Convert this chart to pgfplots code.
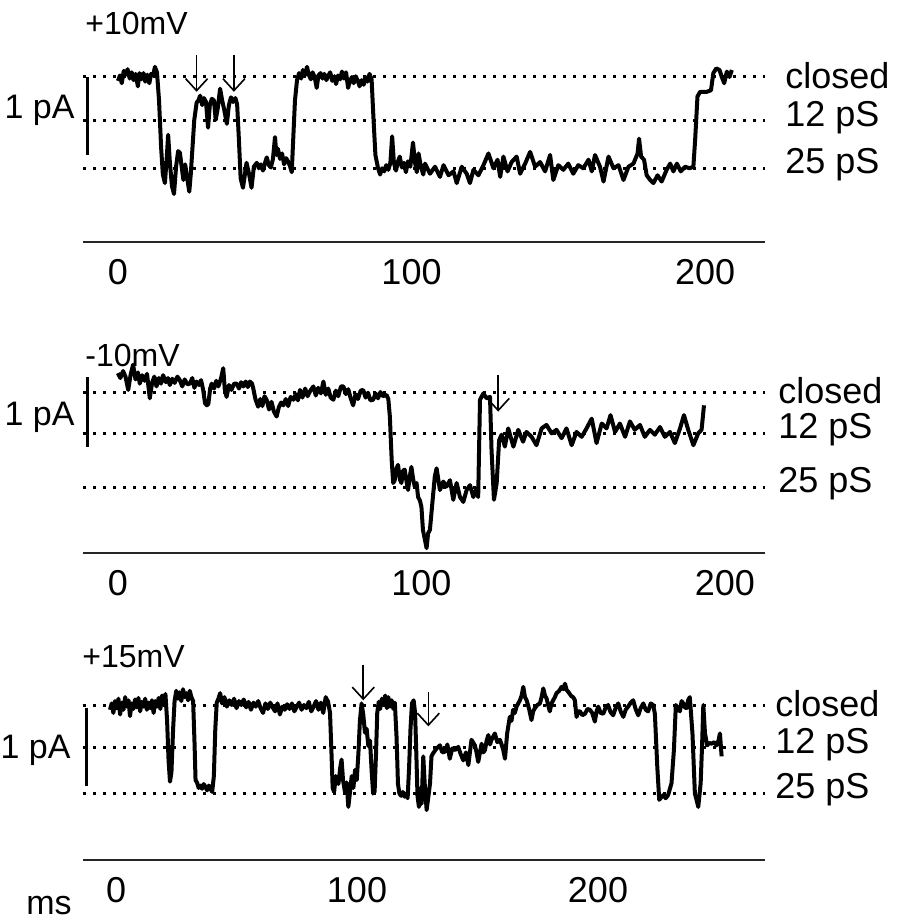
\documentclass[border=0pt]{standalone}
\usepackage{pgfplots}
\pgfplotsset{compat=1.18}
\usepackage{fontspec}
\setmainfont{Liberation Sans}
\usetikzlibrary{arrows.meta}

\pgfplotsset{
  trace/.style={black, line width=2pt, line join=round, no markers},
  lvl/.style={black, line width=1.5pt, dash pattern=on 1.3pt off 3.7pt, no markers},
  panel/.style={scale only axis, width=341pt, anchor=south west,
    axis x line=bottom, axis y line=none,
    axis line style={-, line width=0.8pt, black!85},
    xtick={0,100,200}, major tick length=0pt,
    xticklabel style={font=\fontsize{18}{18}\selectfont, yshift=-5pt},
    /pgf/number format/assume math mode=true, clip=false},
}
\tikzset{
  lab/.style={anchor=base west, inner sep=0pt, font=\fontsize{18}{18}\selectfont},
  arr/.style={line width=0.8pt, -{Straight Barb[length=6pt,width=11pt]}},
  bar/.style={line width=1.5pt},
}

\begin{document}
\begin{tikzpicture}
\path[use as bounding box] (0,0) rectangle (448.5pt,-461pt);

% ---------------- Panel 1 : +10 mV ----------------
\begin{axis}[panel, at={(41.5pt,-121pt)}, height=101pt,
  xmin=-11.9, xmax=220.4, ymin=-2.115, ymax=0.474]
\addplot[lvl] coordinates {(-11.9,0) (220.4,0)};
\addplot[lvl] coordinates {(-11.9,-0.564) (220.4,-0.564)};
\addplot[lvl] coordinates {(-11.9,-1.167) (220.4,-1.167)};
\addplot[trace] coordinates {
(0,-0.05) (0.7,0.02) (1.3,-0.08) (2,0.08) (2.7,0.03) (3.3,0.10) (4,-0.02) (4.7,0.06) (5.3,-0.04) (6,0.04)
(6.8,-0.12) (7.3,0.05) (8,-0.03) (8.7,0.05) (9.3,-0.06) (10,0.03) (10.7,-0.08) (11.3,0.04) (12,0.02) (12.6,0.13)
(13.3,0.06) (14,-0.3) (14.7,-0.9) (15.3,-1.25) (16,-1.36) (16.6,-1.05) (17.1,-0.74) (17.7,-1.1) (18.4,-1.4) (19.1,-1.5)
(19.8,-1.15) (20.5,-0.95) (21.1,-0.97) (21.7,-1.15) (22.3,-1.32) (22.9,-1.12) (23.6,-1.3) (24.3,-1.47) (24.8,-1.25) (25.4,-0.9)
(26,-0.55) (26.8,-0.33) (27.4,-0.3) (28,-0.24) (28.7,-0.36) (29.3,-0.27) (30,-0.32) (30.7,-0.65) (31.3,-0.36) (32,-0.28)
(32.7,-0.3) (33.3,-0.55) (34,-0.4) (34.8,-0.15) (35.5,-0.3) (36.2,-0.42) (37.1,-0.6) (37.8,-0.36) (38.5,-0.26) (39.2,-0.32)
(40,-0.27) (40.6,-0.35) (41.2,-0.8) (41.8,-1.3) (42.6,-1.42) (43.8,-1.1) (44.7,-1.25) (45.5,-1.42) (46.3,-1.15) (47.3,-1.1)
(48,-1.17) (48.7,-1.12) (49.4,-1.2) (50.1,-1.1) (50.7,-1.03) (51.4,-1.13) (52.1,-1.16) (52.8,-1.05) (53.5,-0.77) (54,-1.0)
(54.5,-0.92) (55.2,-1.05) (55.9,-0.98) (56.6,-1.12) (57.3,-1.04) (57.9,-1.08) (58.6,-1.14) (59.2,-1.22) (59.7,-0.8) (60.3,-0.3)
(61,-0.04) (61.7,0.05) (62.4,-0.02) (63,0.09) (63.7,0.02) (64.4,0.13) (65,0.03) (65.7,-0.03) (66.3,0.06) (67,0.0)
(67.7,-0.14) (68.3,0.02) (69,0.05) (69.7,-0.02) (70.3,0.04) (71,-0.04) (71.7,0.02) (72.3,0.06) (73,-0.05) (73.7,0.01)
(74.3,-0.09) (75,0.02) (75.7,-0.03) (76.3,0.07) (77,-0.02) (77.7,0.06) (78.4,-0.14) (79,-0.05) (79.7,0.0) (80.3,-0.08)
(81,0.01) (81.7,-0.05) (82.3,-0.12) (83,-0.04) (83.7,-0.1) (84.3,0.0) (85,-0.06) (85.7,0.04) (86.4,-0.03) (87,-0.5)
(87.7,-1.0) (88.6,-1.17) (89.3,-1.25) (90,-1.17) (90.7,-1.21) (91.4,-1.13) (92.1,-1.19) (92.8,-1.1) (93.4,-0.76) (94,-1.1)
(94.7,-1.2) (95.4,-1.08) (96,-1.02) (96.7,-1.16) (97.4,-1.1) (98.1,-1.22) (98.8,-1.08) (99.6,-1.15) (100.5,-0.84) (101.2,-1.1)
(101.8,-1.22) (102.4,-0.98) (103.2,-1.15) (104,-1.25) (104.6,-1.11) (106.3,-1.24) (108,-1.15) (109.7,-1.28) (110.9,-1.13) (112.6,-1.26)
(114.3,-1.21) (115.4,-1.36) (117.1,-1.15) (118.8,-1.24) (119.9,-1.36) (121.1,-1.19) (122.8,-1.26) (124.5,-1.13) (126.2,-0.98) (127.9,-1.17)
(129.3,-1.06) (130.2,-1.28) (131.3,-1.02) (132.7,-1.21) (134.1,-1.09) (135.8,-1.02) (137,-1.24) (138.7,-1.11) (140.4,-0.96) (142.1,-1.15)
(143.8,-1.09) (145.5,-1.21) (147.2,-1.0) (148.3,-1.32) (150,-1.13) (151.7,-1.19) (153.4,-1.11) (155.1,-1.24) (156.8,-1.13) (158.5,-1.17)
(160.3,-1.06) (161.4,-1.21) (162.5,-1.0) (164.2,-1.15) (165.4,-1.34) (167.1,-1.02) (168.8,-1.17) (170.5,-1.13) (172.2,-1.32) (173.9,-1.15)
(175.6,-1.11) (177,-0.98) (177.5,-0.79) (178.2,-1.02) (179.2,-1.06) (180.1,-1.26) (181.3,-1.32) (182.4,-1.36) (183.8,-1.26) (185.2,-1.34)
(186.9,-1.19) (188.1,-1.11) (189.2,-1.21) (190.4,-1.11) (191.7,-1.21) (193.2,-1.15) (194.7,-1.17) (196,-1.15) (196.6,-0.81) (197.4,-0.25)
(198.3,-0.19) (200.6,-0.19) (202,-0.17) (202.8,0.05) (203.8,0.11) (204.9,0.09) (205.7,0.0) (206.5,-0.08) (207.4,0.07) (208.3,0.0)
(209.1,0.09)
};
\draw[bar] (axis cs:-10.2,0) -- (axis cs:-10.2,-1);
\draw[arr] (axis cs:26.8,0.28) -- (axis cs:26.8,-0.19);
\draw[arr] (axis cs:39.5,0.28) -- (axis cs:39.5,-0.19);
\node[lab, xshift=10pt, yshift=-5.8pt] at (axis cs:220.4,0) {closed};
\node[lab, xshift=10pt, yshift=-2.8pt] at (axis cs:220.4,-0.564) {12 pS};
\node[lab, xshift=10pt, yshift=-2.5pt] at (axis cs:220.4,-1.167) {25 pS};
\end{axis}

% ---------------- Panel 2 : -10 mV ----------------
\begin{axis}[panel, at={(41.5pt,-276.5pt)}, height=94pt,
  xmin=-11.5, xmax=213.2, ymin=-2.3, ymax=0.386]
\addplot[lvl] coordinates {(-11.5,0) (213.2,0)};
\addplot[lvl] coordinates {(-11.5,-0.586) (213.2,-0.586)};
\addplot[lvl] coordinates {(-11.5,-1.357) (213.2,-1.357)};
\addplot[trace] coordinates {
(0,0.27) (0.8,0.2) (1.7,0.3) (2.5,0.22) (3.4,0.03) (4.2,0.25) (5,0.39) (5.8,0.18) (6.6,0.28) (7.2,0.12)
(8,0.24) (8.8,0.16) (9.6,0.26) (10.5,-0.09) (11.3,0.14) (12,0.22) (12.7,0.08) (13.5,0.2) (14.2,0.12) (14.9,0.24)
(15.8,0.14) (16.5,0.2) (17.1,0.1) (17.9,0.19) (18.7,0.13) (19.6,0.22) (20.4,0.17) (21.2,0.08) (22,0.18) (22.9,0.11)
(23.7,0.12) (24.5,0.2) (25.2,0.06) (25.9,0.15) (26.7,0.1) (27.4,0.17) (28.1,0.03) (28.7,-0.16) (29.3,-0.19) (29.8,-0.17)
(30.4,0.05) (30.9,0.12) (31.7,0.05) (32.4,0.16) (33.1,0.08) (34,0.2) (34.7,0.34) (35.2,0.05) (35.8,-0.07) (36.6,0.1)
(37.4,0.03) (38.3,0.12) (39.1,0.12) (39.9,0.05) (40.6,0.14) (41.3,0.08) (42.1,0.15) (42.8,0.07) (43.5,0.15) (44.2,0.12)
(44.6,0.05) (45.3,-0.1) (46.2,-0.21) (46.9,-0.1) (47.6,-0.2) (48.3,-0.06) (49,-0.11) (49.8,-0.25) (50.6,-0.14) (51.4,-0.28)
(52.3,-0.35) (53,-0.22) (53.8,-0.15) (54.5,-0.19) (55.3,-0.1) (56.1,-0.2) (56.9,-0.07) (57.8,-0.11) (58.6,-0.03) (59.3,-0.12)
(60,0.03) (60.8,-0.08) (61.7,0.05) (62.5,-0.06) (63.4,0.02) (64.4,0.08) (65.2,-0.05) (66,0.06) (66.9,-0.02) (67.7,0.15)
(68.5,-0.04) (69.3,0.05) (70.1,-0.08) (71,-0.11) (71.8,0.02) (72.6,-0.06) (73.5,0.08) (74.3,0.08) (75.1,-0.03) (75.9,0.04)
(76.7,-0.09) (77.5,-0.19) (78.3,-0.03) (79.1,-0.1) (80,0.02) (80.8,0.03) (81.6,-0.08) (82.4,-0.01) (83.2,-0.12) (84.1,-0.11)
(84.9,-0.02) (85.7,-0.09) (86.5,0.0) (87.3,-0.06) (88.5,-0.04) (89.1,-0.1) (89.6,-0.35) (90.2,-0.97) (90.7,-1.3) (91.2,-1.26)
(91.7,-1.1) (92.3,-1.04) (92.9,-1.25) (93.4,-1.3) (94,-1.12) (94.5,-1.11) (95.1,-1.28) (95.6,-1.4) (96.2,-1.2) (96.7,-1.07)
(97.3,-1.25) (97.8,-1.35) (98.4,-1.3) (98.9,-1.5) (99.5,-1.55) (100,-1.64) (100.5,-1.97) (101.1,-2.1) (101.7,-2.23) (102.2,-2.02)
(102.8,-1.97) (103.7,-1.54) (104.4,-1.21) (105,-1.09) (106.1,-1.4) (107.2,-1.28) (108.3,-1.35) (109.4,-1.26) (110.5,-1.54) (111.6,-1.30)
(112.7,-1.50) (113.8,-1.57) (114.9,-1.40) (116,-1.33) (117.1,-1.50) (118.2,-1.38) (118.7,-1.5) (119.3,-0.11) (120.4,-0.02) (121.5,-0.09)
(122.6,-0.07) (123.1,-0.83) (123.9,-1.54) (124.8,-1.30) (125.6,-0.69) (126.4,-0.61) (127.5,-0.78) (128.6,-0.52) (130.3,-0.78) (131.9,-0.54)
(133.5,-0.71) (134.6,-0.57) (136.3,-0.64) (137.9,-0.76) (139.6,-0.52) (141.2,-0.47) (142.9,-0.59) (144.5,-0.54) (146.2,-0.66) (147.8,-0.52)
(149.5,-0.76) (151.1,-0.57) (152.8,-0.64) (154.4,-0.52) (156.1,-0.38) (157.7,-0.73) (159.4,-0.45) (161,-0.52) (162.3,-0.33) (163.8,-0.57)
(165.4,-0.45) (167.1,-0.64) (168.7,-0.42) (170.3,-0.54) (172,-0.47) (173.6,-0.64) (175.3,-0.54) (176.9,-0.61) (178.6,-0.50) (180.2,-0.64)
(181.9,-0.57) (183.5,-0.73) (185.2,-0.52) (186.5,-0.33) (187.9,-0.54) (189.6,-0.76) (191.2,-0.59) (192.3,-0.54) (193.1,-0.19)
};
\draw[bar] (axis cs:-9.9,0.214) -- (axis cs:-9.9,-0.786);
\draw[arr] (axis cs:125.3,0.243) -- (axis cs:125.3,-0.28);
\node[lab, xshift=6.5pt, yshift=-5.8pt] at (axis cs:213.2,0) {closed};
\node[lab, xshift=6.5pt, yshift=-2.8pt] at (axis cs:213.2,-0.586) {12 pS};
\node[lab, xshift=6.5pt, yshift=-2.5pt] at (axis cs:213.2,-1.357) {25 pS};
\end{axis}

% ---------------- Panel 3 : +15 mV ----------------
\begin{axis}[panel, at={(41.5pt,-430pt)}, height=92.5pt,
  xmin=-13.7, xmax=269.3, ymin=-1.962, ymax=0.38]
\addplot[lvl] coordinates {(-13.7,0) (269.3,0)};
\addplot[lvl] coordinates {(-13.7,-0.54) (269.3,-0.54)};
\addplot[lvl] coordinates {(-13.7,-1.125) (269.3,-1.125)};
\addplot[trace] coordinates {
(-2.5,-0.06) (-1.8,0.02) (-1.1,-0.10) (-0.4,0.05) (0.3,-0.04) (1.0,0.08) (1.7,-0.12) (2.4,0.03) (3.1,-0.06) (3.8,0.10)
(4.5,-0.02) (5.2,0.06) (5.8,-0.14) (6.5,0.02) (7.2,-0.05) (7.9,0.07) (8.6,-0.03) (9.3,0.09) (10,-0.08) (10.7,0.04)
(11.4,-0.02) (12.1,0.08) (12.8,-0.06) (13.5,0.03) (14.2,-0.04) (14.9,0.06) (15.6,-0.1) (16.3,0.05) (17,-0.02) (17.7,0.09)
(18.4,-0.05) (19.1,0.12) (19.8,0.0) (20.5,0.14) (21.2,-0.2) (21.8,-0.7) (22.4,-0.97) (23,-0.85) (23.7,-0.3) (24.3,0.05)
(25,0.18) (25.7,0.08) (26.4,0.16) (27.1,0.05) (27.8,0.2) (28.5,0.1) (29.2,0.15) (29.9,0.06) (30.6,0.18) (31.3,0.1)
(32,0.05) (32.6,-0.5) (33,-0.95) (33.6,-0.98) (34.3,-1.05) (35,-1.02) (35.7,-1.06) (36.4,-1.0) (37.1,-1.04) (37.8,-1.08)
(38.5,-1.02) (39.2,-1.06) (39.9,-1.1) (40.6,-0.9) (41.2,-0.3) (41.8,0.03) (42.5,0.08) (43.2,0.15) (44,0.02) (45,0.10)
(46,-0.02) (47,0.06) (48,0.0) (49,0.08) (50,-0.04) (51,0.05) (52,0.0) (53,0.07) (54,-0.03) (55,0.04)
(56,-0.06) (57,0.03) (58,-0.02) (59,0.05) (60,-0.04) (61,-0.10) (62,0.02) (63,-0.05) (64,0.03) (65,-0.03)
(66,-0.08) (67,0.02) (68,-0.12) (69,-0.02) (70,-0.06) (71,0.01) (72,-0.05) (73,0.02) (74,-0.08) (75,-0.02)
(76,0.03) (77,-0.06) (78,0.0) (79,-0.04) (80,0.04) (81,-0.08) (82,-0.02) (83,0.05) (84,-0.06) (85,0.03)
(86,-0.1) (87,0.1) (88,0.04) (88.8,-0.1) (89.4,-0.6) (89.9,-1.05) (90.5,-1.1) (91.2,-0.9) (92.3,-1.0) (93,-0.8)
(93.6,-0.69) (94.2,-0.95) (95,-1.1) (95.7,-0.98) (96.4,-1.29) (97.1,-1.1) (97.8,-0.9) (98.5,-1.05) (99.2,-0.82) (99.9,-0.95)
(100.6,-0.6) (101.2,-0.2) (101.9,0.02) (102.6,-0.12) (103.3,-0.35) (104,-0.3) (104.7,-0.52) (105.4,-0.45) (106.1,-0.85) (106.7,-1.12)
(107.3,-1.1) (107.9,-0.6) (108.4,-0.1) (109,0.04) (109.6,-0.05) (110.3,0.08) (111,0.0) (111.7,0.12) (112.4,-0.04) (113,0.1)
(113.7,-0.02) (114.4,0.06) (115.1,-0.05) (115.7,0.03) (116.4,-0.4) (117,-1.0) (117.6,-1.12) (118.3,-1.15) (119,-1.1) (119.7,-1.16)
(120.4,-1.12) (121,-1.18) (121.6,-0.8) (122.2,-0.3) (122.8,0.02) (123.5,0.06) (124.1,-0.1) (124.6,-0.6) (125.1,-1.15) (125.7,-1.29)
(126.3,-1.05) (126.8,-1.25) (127.5,-0.65) (128.1,-1.0) (128.9,-1.33) (130.3,-0.99) (130.9,-0.65) (131.6,-0.61) (133,-0.55) (134.4,-0.51)
(135.4,-0.6) (136.5,-0.59) (137.5,-0.5) (138.5,-0.68) (139.5,-0.55) (140.6,-0.57) (142,-0.53) (143,-0.62) (144.1,-0.70) (145.2,-0.6)
(146.2,-0.76) (147.5,-0.44) (148.9,-0.51) (149.6,-0.6) (150.3,-0.72) (151.7,-0.49) (152.4,-0.6) (153.1,-0.57) (153.8,-0.45) (154.5,-0.38)
(155.2,-0.5) (155.8,-0.44) (156.5,-0.4) (157.2,-0.36) (158.2,-0.47) (159.3,-0.44) (160,-0.5) (160.7,-0.57) (161.4,-0.68) (162.3,-0.36)
(163.4,-0.15) (164.1,-0.2) (164.8,-0.06) (165.5,-0.1) (166.2,-0.02) (166.9,0.02) (167.6,0.06) (168.3,0.12) (169,0.23) (169.7,0.1)
(170.4,0.06) (171.4,-0.05) (172.4,-0.19) (173.1,-0.08) (173.8,-0.04) (174.8,0.0) (175.9,0.02) (176.6,0.1) (177.3,0.21) (178,0.12)
(178.7,0.08) (179.3,0.0) (180,-0.08) (180.7,0.02) (181.4,0.06) (182.1,0.1) (182.8,0.15) (183.9,0.18) (184.9,0.23) (185.6,0.2)
(186.3,0.27) (187,0.19) (187.6,0.17) (188.3,0.14) (189,0.11) (189.7,0.1) (190.4,0.06) (191.1,-0.15) (191.8,-0.08) (192.5,-0.08)
(193.5,-0.13) (194.6,-0.11) (195.6,-0.05) (196.6,-0.06) (197.6,-0.1) (198.7,-0.21) (199.4,-0.08) (200.1,-0.02) (201.1,-0.1) (202.2,-0.11)
(203.2,-0.03) (204.2,0.0) (205.2,-0.09) (206.3,-0.13) (207.3,-0.04) (208.4,0.02) (209.4,-0.08) (210.5,-0.15) (211.5,-0.06) (212.5,-0.02)
(213.6,0.03) (214.6,0.06) (215.6,-0.05) (216.7,-0.13) (217.7,-0.04) (218.8,0.02) (219.8,-0.06) (220.8,-0.08) (221.9,0.02) (222.9,0.0)
(223.6,-0.11) (224.6,-0.78) (225.4,-1.2) (226.2,-1.17) (227.1,-1.14) (228.1,-1.18) (229.1,-1.14) (230.5,-0.99) (231.5,-0.57) (232.3,0.0)
(233.2,-0.04) (234,-0.08) (234.7,0.05) (235.4,0.02) (236.1,-0.03) (236.7,-0.04) (237.4,0.06) (238.1,0.1) (239.2,-0.36) (240.2,-1.12)
(240.9,-1.2) (241.6,-1.29) (242.6,-0.99) (243.2,-0.5) (243.7,0.0) (244.4,-0.36) (245.3,-0.51) (246.2,-0.48) (247.1,-0.49) (248.2,-0.47)
(249.2,-0.51) (250,-0.45) (250.6,-0.36) (251.3,-0.65)
};
\draw[bar] (axis cs:-12.4,-0.04) -- (axis cs:-12.4,-1.025);
\draw[arr] (axis cs:102.6,0.51) -- (axis cs:102.6,0.06);
\draw[arr] (axis cs:129.6,0.17) -- (axis cs:129.6,-0.27);
\node[lab, xshift=5pt, yshift=-5.8pt] at (axis cs:269.3,0) {closed};
\node[lab, xshift=5pt, yshift=-3pt] at (axis cs:269.3,-0.54) {12 pS};
\node[lab, xshift=5pt, yshift=-2.5pt] at (axis cs:269.3,-1.125) {25 pS};
\end{axis}

% ---------------- free text ----------------
\begin{scope}[every node/.style={inner sep=0pt, font=\fontsize{16}{16}\selectfont}]
\node[anchor=base west] at (42.5pt,-17pt) {+10mV};
\node[anchor=base west] at (42.5pt,-183pt) {-10mV};
\node[anchor=base west] at (41pt,-333.5pt) {+15mV};
\end{scope}
\begin{scope}[every node/.style={inner sep=0pt, font=\fontsize{17}{17}\selectfont}]
\node[anchor=base east] at (37.5pt,-59pt) {1 pA};
\node[anchor=base east] at (37.5pt,-212.5pt) {1 pA};
\node[anchor=base east] at (35.5pt,-379pt) {1 pA};
\node[anchor=base east] at (36pt,-457pt) {ms};
\end{scope}
\end{tikzpicture}
\end{document}
